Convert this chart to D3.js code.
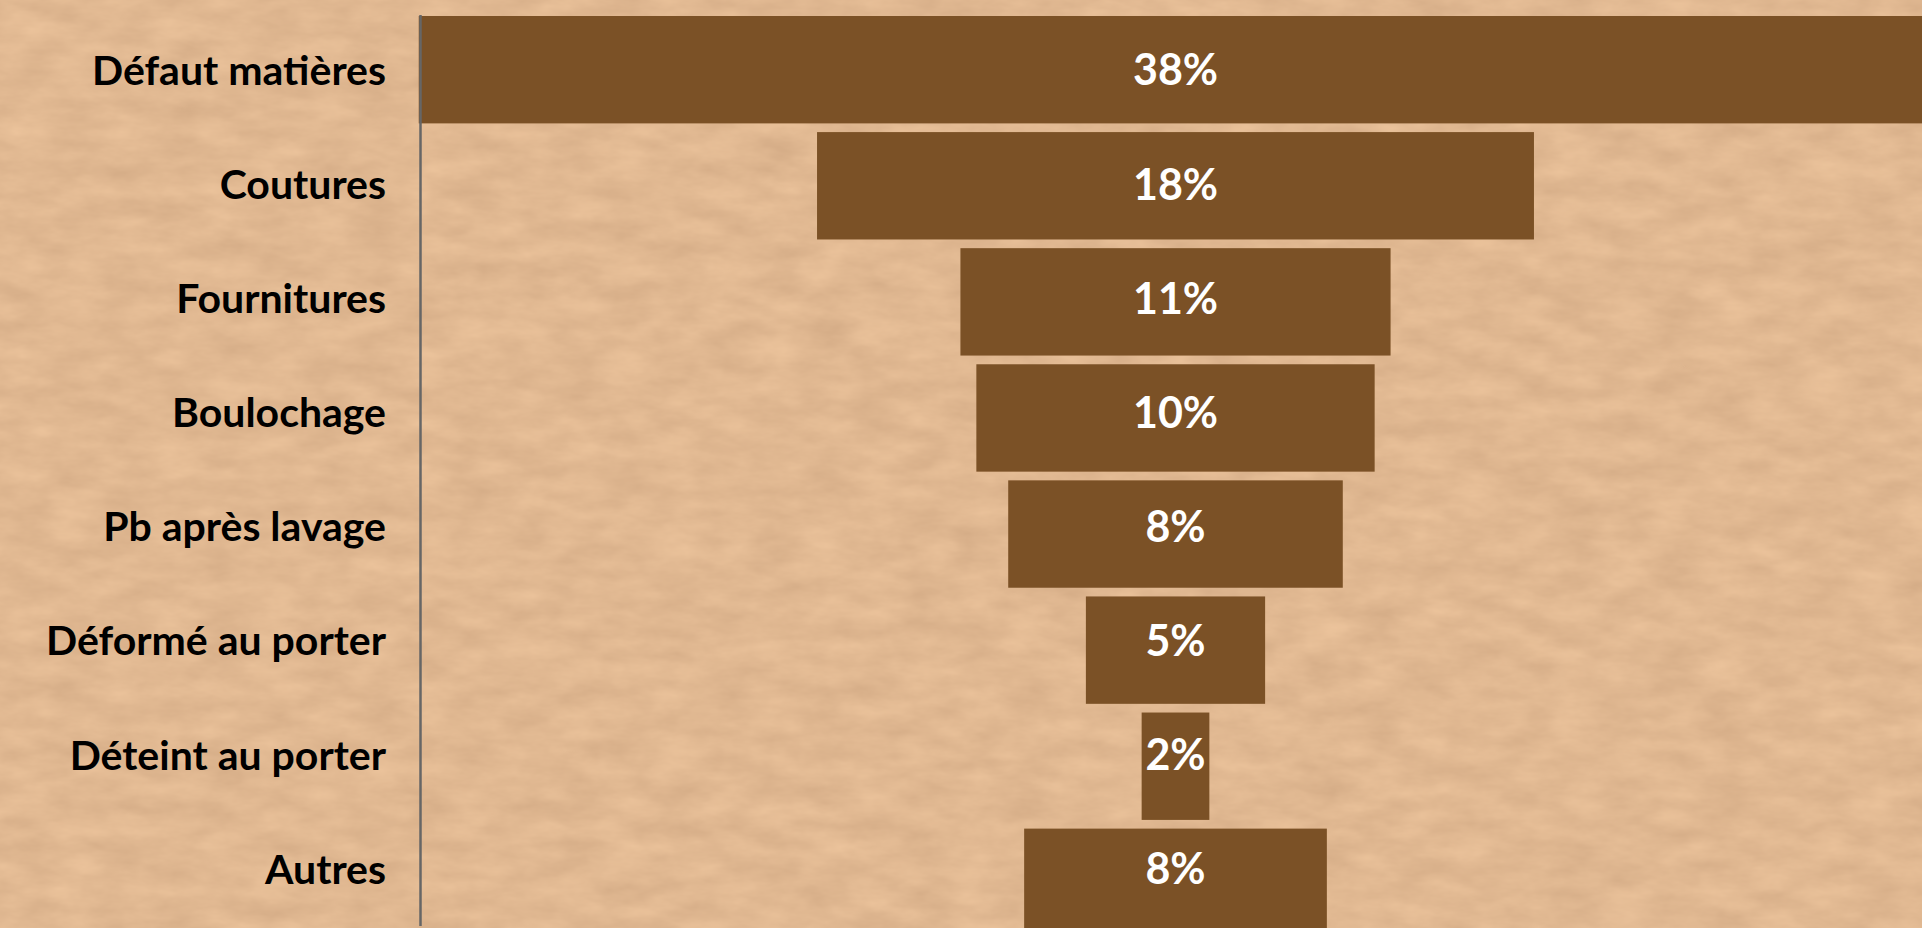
<!DOCTYPE html>
<html>
<head>
<meta charset="utf-8">
<script src="https://cdn.jsdelivr.net/npm/d3@7"></script>
<style>
  html, body { margin: 0; padding: 0; overflow: hidden; background: #dfb58e; }
  svg { display: block; }
  .catLabel { font-family: Lato, 'Open Sans', sans-serif; font-weight: 700; fill: #000; }
  .valueLabel { font-family: Lato, 'Open Sans', sans-serif; font-weight: 700; fill: #fff; }
</style>
</head>
<body>
<div id="chart"></div>
<script>
const categories = ['Défaut matières', 'Coutures', 'Fournitures', 'Boulochage',
  'Pb après lavage', 'Déformé au porter', 'Déteint au porter', 'Autres'];
const shares = [38, 18, 10.8, 10, 8.4, 4.5, 1.7, 7.6];

const width = 1922;
const height = 928;
const centerX = 1175.5;
const axisX = 420.5;
const barColor = '#7b5126';

const svg = d3.select('#chart')
  .append('svg')
  .attr('width', width)
  .attr('height', height);

// kraft paper background
const defs = svg.append('defs');
const paper = defs.append('filter')
  .attr('id', 'paper')
  .attr('x', 0).attr('y', 0)
  .attr('width', width).attr('height', height)
  .attr('filterUnits', 'userSpaceOnUse')
  .attr('color-interpolation-filters', 'sRGB');
paper.append('feTurbulence')
  .attr('type', 'fractalNoise')
  .attr('baseFrequency', '0.02 0.05')
  .attr('numOctaves', 4)
  .attr('seed', 3)
  .attr('result', 'noise');
paper.append('feColorMatrix')
  .attr('in', 'noise')
  .attr('type', 'matrix')
  .attr('values', '0.1 0 0 0 0.83  0.1 0 0 0 0.672  0.09 0 0 0 0.525  0 0 0 0 1');

svg.append('rect')
  .attr('width', width)
  .attr('height', height)
  .attr('filter', 'url(#paper)');

const xScale = d3.scaleLinear()
  .domain([0, 38])
  .range([0, 1513.5]);

const yScale = d3.scaleBand()
  .domain(categories)
  .range([16, 936])
  .paddingInner(0.075)
  .paddingOuter(0);

// text rows sit on a slightly tighter grid than the bars
const yText = d3.scalePoint()
  .domain(categories)
  .range([70, 869]);

svg.append('g')
  .attr('class', 'bars')
  .selectAll('rect')
  .data(categories)
  .enter()
  .append('rect')
  .attr('x', function(d, i) { return centerX - xScale(shares[i]) / 2; })
  .attr('y', function(d) { return yScale(d); })
  .attr('width', function(d, i) { return xScale(shares[i]); })
  .attr('height', yScale.bandwidth())
  .style('fill', barColor);

const valueSize = 43;
svg.append('g')
  .attr('class', 'values')
  .selectAll('text')
  .data(categories)
  .enter()
  .append('text')
  .attr('class', 'valueLabel')
  .attr('x', centerX)
  .attr('y', function(d) { return yText(d) + valueSize * 0.36; })
  .style('font-size', valueSize + 'px')
  .style('text-anchor', 'middle')
  .text(function(d, i) { return Math.round(shares[i]) + '%'; });

const catSize = 41;
svg.append('g')
  .attr('class', 'categories')
  .selectAll('text')
  .data(categories)
  .enter()
  .append('text')
  .attr('class', 'catLabel')
  .attr('x', 386)
  .attr('y', function(d) { return yText(d) + catSize * 0.36; })
  .style('font-size', catSize + 'px')
  .style('text-anchor', 'end')
  .text(function(d) { return d; });

svg.append('line')
  .attr('x1', axisX).attr('x2', axisX)
  .attr('y1', 15).attr('y2', 926)
  .style('stroke', '#666')
  .style('stroke-width', 2.5);
</script>
</body>
</html>
